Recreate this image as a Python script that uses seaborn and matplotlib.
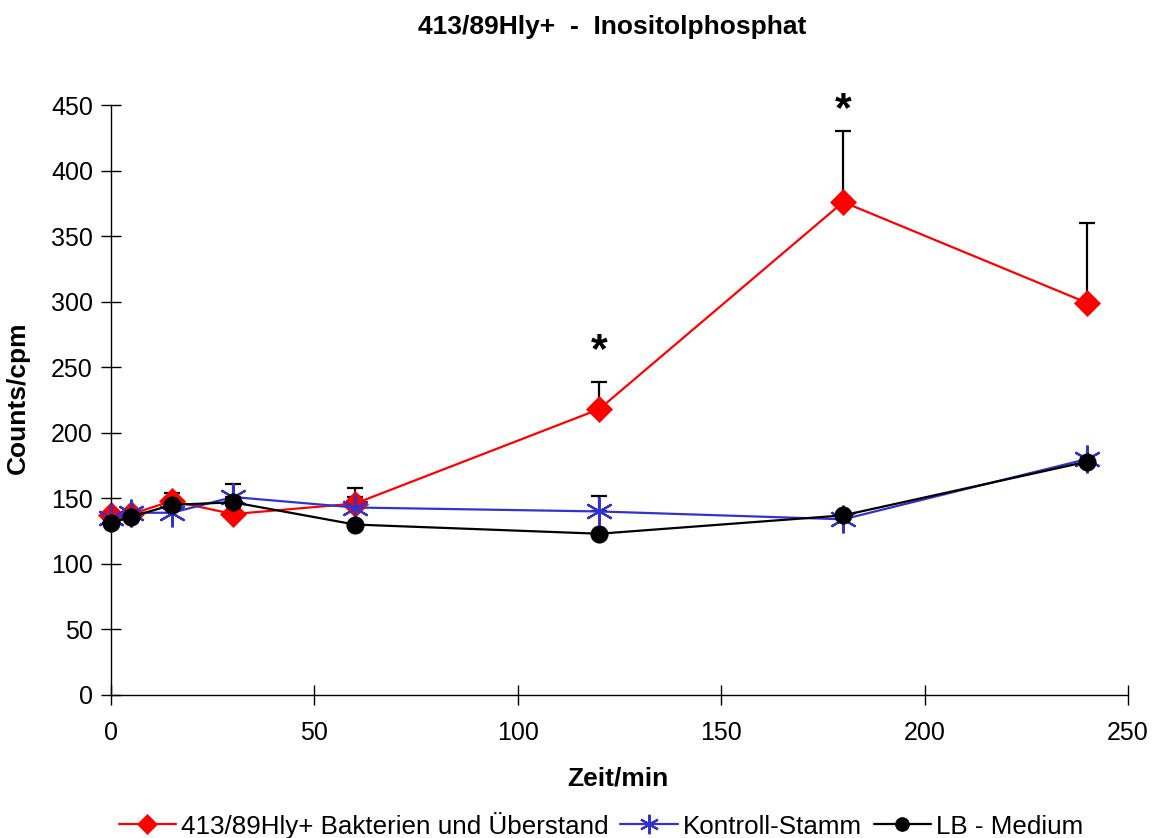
import numpy as np
import pandas as pd
import seaborn as sns
import matplotlib.pyplot as plt

# Measured time points (min)
zeit = [0, 5, 15, 30, 60, 120, 180, 240]

# Mean counts per series
bakterien = [137, 138, 148, 138, 146, 218, 376, 299]
kontrolle = [135, 139, 139, 151, 143, 140, 134, 180]
medium = [131, 136, 145, 147, 130, 123, 137, 178]

# Upper standard deviations
err_bakterien = [0, 0, 6, 0, 12, 21, 54, 61]
err_kontrolle = [0, 0, 0, 10, 8, 12, 0, 0]
err_medium = [0, 0, 0, 0, 0, 0, 0, 0]

names = ["413/89Hly+ Bakterien und Überstand", "Kontroll-Stamm", "LB - Medium"]
farben = ["#ff0000", "#3333cc", "#000000"]
marker = ["D", (6, 2, 0), "o"]
groessen = [13, 20, 12.5]
legend_groessen = [10, 14, 10]
kanten = [0.5, 1.6, 0.5]

# Significance marks (asterisk glyph sits high, so anchors are set slightly lower)
stern_x = [120, 180]
stern_y = [262, 446]

sns.set_theme(style="white")
plt.rcParams["font.family"] = ["Liberation Sans", "DejaVu Sans"]
for key in ["text.color", "axes.labelcolor", "xtick.color", "ytick.color", "axes.edgecolor"]:
    plt.rcParams[key] = "black"

df = pd.DataFrame({
    "Zeit": zeit * 3,
    "Counts": bakterien + kontrolle + medium,
    "Serie": [names[0]] * len(zeit) + [names[1]] * len(zeit) + [names[2]] * len(zeit),
})

W, H = 1157, 838
fig = plt.figure(figsize=(W / 100, H / 100), dpi=100)
ax = fig.add_axes([111 / W, 1 - 695 / H, (1128 - 111) / W, (695 - 105) / H])

fehler = [err_bakterien, err_kontrolle, err_medium]
werte = [bakterien, kontrolle, medium]
for w, e in zip(werte, fehler):
    e = np.array(e, dtype=float)
    mask = e > 0
    if mask.any():
        ax.errorbar(np.array(zeit)[mask], np.array(w)[mask],
                    yerr=[np.zeros(mask.sum()), e[mask]],
                    fmt="none", ecolor="black", elinewidth=1.6, capsize=6, capthick=1.6,
                    zorder=1)

for i, n in enumerate(names):
    sub = df[df["Serie"] == n]
    sns.lineplot(data=sub, x="Zeit", y="Counts", ax=ax, color=farben[i],
                 marker=marker[i], markersize=groessen[i],
                 markeredgecolor=farben[i], markerfacecolor=farben[i],
                 markeredgewidth=kanten[i], linewidth=1.6, zorder=2 + i, legend=False)

for sx, sy in zip(stern_x, stern_y):
    ax.text(sx, sy, "*", ha="center", va="center", fontsize=31, fontweight="bold",
            color="black")

ax.set_xlim(0, 250)
ax.set_ylim(0, 450)
ax.set_xticks(range(0, 251, 50))
ax.set_yticks(range(0, 451, 50))
ax.tick_params(axis="both", which="major", direction="inout", length=14, width=1,
               color="black", labelsize=18, bottom=True, left=True)
ax.tick_params(axis="y", pad=6)
ax.tick_params(axis="x", pad=12)
for s in ["top", "right"]:
    ax.spines[s].set_visible(False)
for s in ["left", "bottom"]:
    ax.spines[s].set_color("black")
    ax.spines[s].set_linewidth(1)
ax.set_xlabel("")
ax.set_ylabel("")
for ln in ax.lines:
    ln.set_clip_on(False)

fig.text(612 / W, 1 - 27 / H, "413/89Hly+  -  Inositolphosphat", ha="center", va="center",
         fontsize=19, fontweight="bold")
fig.text(618 / W, 1 - 778 / H, "Zeit/min", ha="center", va="center",
         fontsize=19, fontweight="bold")
fig.text(18 / W, 1 - 398 / H, "Counts/cpm", ha="center", va="center", rotation=90,
         fontsize=19, fontweight="bold")

handles = []
for i, n in enumerate(names):
    h, = ax.plot([], [], color=farben[i], marker=marker[i], markersize=legend_groessen[i],
                 markeredgecolor=farben[i], markerfacecolor=farben[i],
                 markeredgewidth=kanten[i], linewidth=1.6)
    handles.append(h)
fig.legend(handles, names, loc="center", bbox_to_anchor=(601 / W, 1 - 825 / H), ncol=3,
           frameon=False, fontsize=18.7, handlelength=2.2, handletextpad=0.2,
           columnspacing=0.45, borderpad=0.1)

fig.savefig("out.png", dpi=100, facecolor="white")
